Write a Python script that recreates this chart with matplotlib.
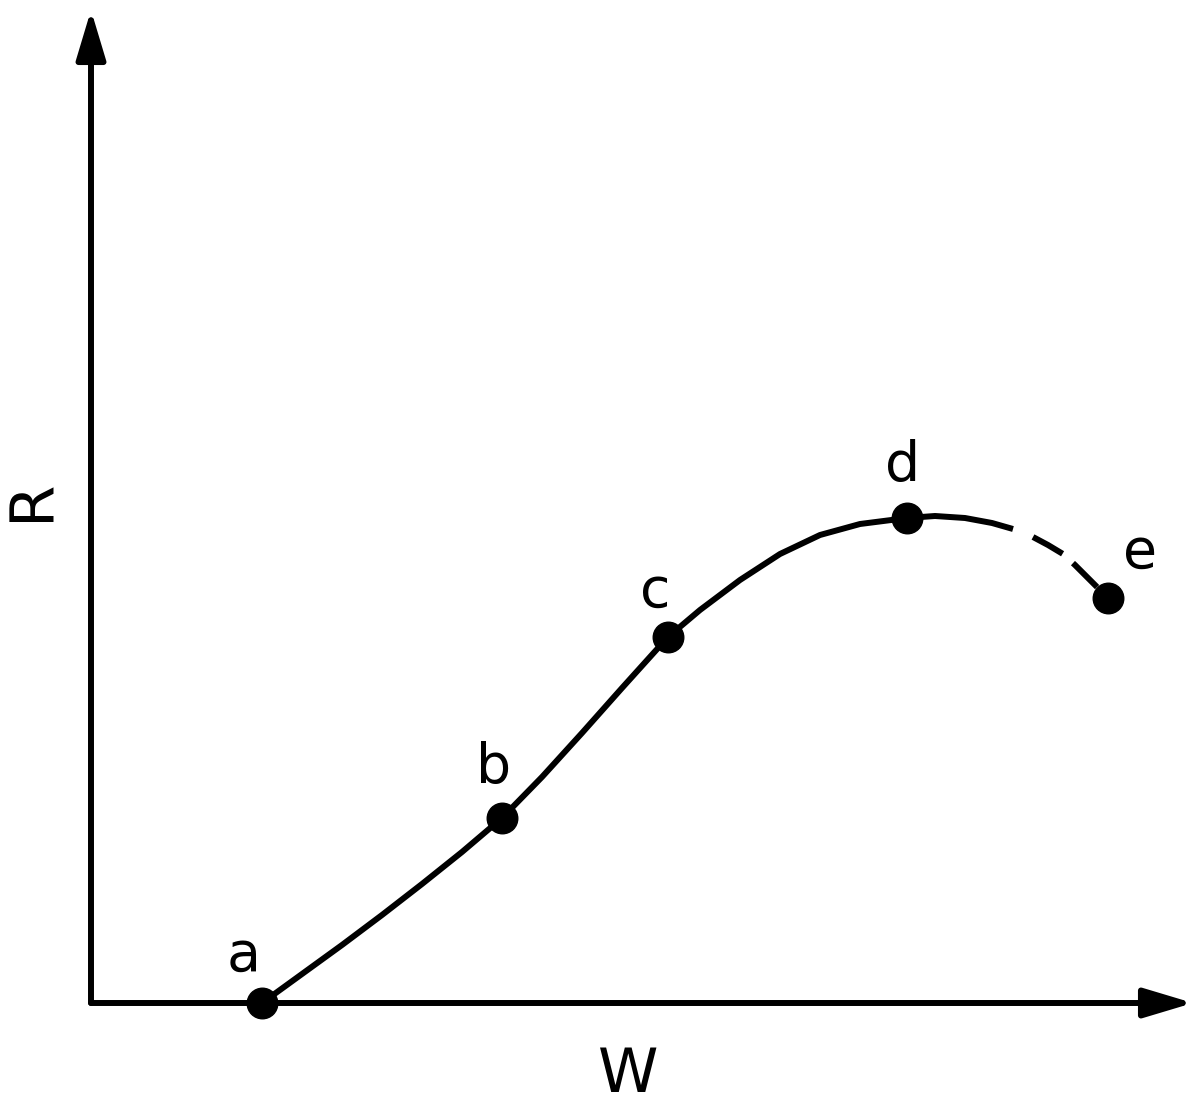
import matplotlib
matplotlib.use("Agg")
import matplotlib.pyplot as plt

# points on the curve (W, R), arbitrary units
labels = ["a", "b", "c", "d", "e"]
pts_w = [1.71, 4.11, 5.77, 8.16, 10.17]
pts_r = [0.00, 1.85, 3.66, 4.85, 4.05]

# solid part of the curve, traced from a to just past d
curve_w = [1.71, 2.11, 2.51, 2.91, 3.31, 3.71, 4.11, 4.51, 4.91, 5.31, 5.77,
           6.09, 6.49, 6.89, 7.29, 7.69, 8.16, 8.44, 8.74, 9.01, 9.22]
curve_r = [0.00, 0.29, 0.58, 0.88, 1.19, 1.51, 1.85, 2.26, 2.70, 3.15, 3.66,
           3.93, 4.23, 4.49, 4.68, 4.79, 4.85, 4.87, 4.85, 4.80, 4.74]

# dashed tail towards e
tail_w = [9.42, 9.57, 9.72, 9.84, 10.01, 10.17]
tail_r = [4.66, 4.58, 4.49, 4.38, 4.21, 4.05]

# label offsets in points (baseline)
label_dx = [-13, -6, -9, -3, 23]
label_dy = [23, 25, 22, 27, 22]

plt.rcParams["lines.scale_dashes"] = False
plt.rcParams["font.family"] = "DejaVu Sans"

fig = plt.figure(figsize=(12, 11.11), dpi=100)
ax = fig.add_axes([0, 0, 1, 1])
ax.set_xlim(-0.91, 11.09)
ax.set_ylim(-1.08, 10.03)
ax.axis("off")

# axes with arrow heads
arrow = dict(arrowstyle="-|>,head_length=30,head_width=9", mutation_scale=1,
             lw=4.3, color="black", shrinkA=0, shrinkB=0)
ax.annotate("", xy=(0, 9.93), xytext=(0, 0), arrowprops=arrow)
ax.annotate("", xy=(11.02, 0), xytext=(0, 0), arrowprops=arrow)

ax.plot(curve_w, curve_r, color="black", lw=4.3, solid_capstyle="butt",
        solid_joinstyle="round")
ax.plot(tail_w, tail_r, color="black", lw=4.3, dash_capstyle="butt",
        dash_joinstyle="round", linestyle=(0, (34 * 0.72, 14 * 0.72)))
ax.plot(pts_w, pts_r, "o", color="black", markersize=22, zorder=5)

for lab, w, r, dx, dy in zip(labels, pts_w, pts_r, label_dx, label_dy):
    ax.annotate(lab, xy=(w, r), xytext=(dx, dy), textcoords="offset points",
                ha="center", va="baseline", fontsize=40)

ax.text(5.37, -0.73, "W", ha="center", va="center", fontsize=44)
ax.text(-0.58, 5.03, "R", ha="center", va="center", fontsize=44, rotation=90)

fig.savefig("out.png", dpi=100)
